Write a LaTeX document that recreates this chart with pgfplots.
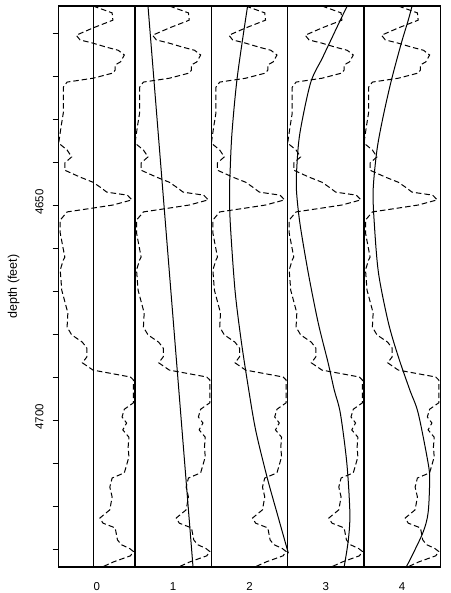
\documentclass[border=0pt]{standalone}
\usepackage{fontspec}
\setmainfont{Liberation Sans}
\usepackage{pgfplots}
\usepackage{pgfplotstable}
\pgfplotsset{compat=1.18}

\pgfplotstableread{
d v
4603.7 0.45
4605.3 0.70
4607.0 0.71
4608.8 0.45
4610.5 0.23
4611.6 0.28
4612.3 0.44
4613.3 0.63
4614.0 0.78
4615.1 0.86
4616.7 0.81
4617.4 0.74
4618.6 0.74
4619.3 0.71
4620.5 0.45
4621.4 0.11
4622.6 0.06
4625.6 0.06
4628.6 0.06
4631.9 0.03
4635.6 0.00
4637.2 0.11
4638.8 0.17
4640.2 0.08
4641.9 0.08
4643.5 0.28
4644.7 0.45
4645.8 0.54
4647.0 0.63
4647.7 0.90
4648.8 0.96
4650.0 0.71
4650.7 0.45
4651.6 0.11
4653.5 0.02
4656.5 0.02
4662.1 0.08
4662.8 0.06
4665.1 0.02
4669.8 0.04
4675.1 0.12
4678.4 0.11
4680.2 0.17
4681.9 0.31
4683.3 0.37
4685.3 0.37
4686.7 0.31
4688.4 0.45
4690.0 0.94
4690.7 0.98
4695.3 0.98
4696.0 0.98
4697.5 0.86
4699.3 0.83
4700.7 0.89
4702.3 0.84
4704.0 0.92
4706.3 0.91
4708.6 0.92
4712.3 0.86
4713.5 0.70
4715.6 0.67
4717.9 0.70
4720.9 0.67
4722.8 0.54
4724.0 0.58
4725.1 0.74
4727.9 0.77
4729.0 0.82
4729.9 0.93
4730.6 0.98
4731.6 0.94
4733.0 0.72
4734.2 0.57
}\logdata

\pgfplotstableread{
d v
4603.7 0.46
4734.2 0.46
}\fitzero

\pgfplotstableread{
d v
4603.7 0.17
4734.2 0.76
}\fitone

\pgfplotstableread{
d v
4603.7 0.475
4620.2 0.34
4633.3 0.27
4642.6 0.245
4646.5 0.238
4654.2 0.248
4669.8 0.31
4681.4 0.39
4691.9 0.48
4702.3 0.58
4713.3 0.73
4721.6 0.86
4729.8 0.99
4731.0 1.01
}\fittwo

\pgfplotstableread{
d v
4603.7 0.78
4607.0 0.69
4615.6 0.46
4621.6 0.30
4633.3 0.16
4641.2 0.12
4646.5 0.115
4654.2 0.16
4665.8 0.27
4677.4 0.40
4686.7 0.53
4693.0 0.61
4698.4 0.69
4710.0 0.775
4721.6 0.815
4727.9 0.795
4734.2 0.74
}\fitthree

\pgfplotstableread{
d v
4603.7 0.63
4607.0 0.58
4612.3 0.49
4620.9 0.36
4629.5 0.25
4637.2 0.17
4646.5 0.12
4654.2 0.135
4665.8 0.19
4677.4 0.32
4685.3 0.45
4693.0 0.60
4698.4 0.71
4710.0 0.84
4714.0 0.86
4721.6 0.84
4726.3 0.77
4733.3 0.58
4734.2 0.55
}\fitfour

\tikzset{
  logline/.style={black, line width=1pt, dash pattern=on 5.5pt off 3pt},
  fitline/.style={black, line width=1pt},
}

\begin{document}
\begin{tikzpicture}
\path[use as bounding box] (-58.7pt,-26pt) rectangle (391.3pt,567pt);
\begin{axis}[
  at={(0pt,0pt)}, anchor=south west,
  scale only axis, width=381.6pt, height=561pt,
  xmin=0, xmax=5, ymin=4603.7, ymax=4734.2, y dir=reverse,
  xtick={0.5,1.5,2.5,3.5,4.5}, xticklabels={0,1,2,3,4},
  x tick style={draw=none},
  extra x ticks={1,2,3,4}, extra x tick labels={},
  extra x tick style={grid=major, major grid style={black, line width=1.1pt}},
  ytick={4610,4620,...,4730},
  yticklabels={,,,,4650,,,,,4700,,,},
  ytick pos=left, tick align=outside, major tick length=6pt,
  y tick style={black, line width=0.8pt},
  axis line style={black, line width=1.1pt},
  font=\fontsize{11.5}{13}\selectfont,
  /pgf/number format/assume math mode=true,
  yticklabel style={rotate=90, anchor=south, inner sep=0pt, yshift=9pt, xshift=3pt},
  xticklabel style={inner sep=0pt, yshift=-9pt},
  ylabel={depth (feet)},
  ylabel style={at={(axis description cs:-0.1022,0.5)}, anchor=south, inner sep=0pt, font=\fontsize{12.5}{14}\selectfont},
]
\addplot[logline] table[x expr=\thisrow{v}, y=d]{\logdata};
\addplot[logline] table[x expr=\thisrow{v}+1, y=d]{\logdata};
\addplot[logline] table[x expr=\thisrow{v}+2, y=d]{\logdata};
\addplot[logline] table[x expr=\thisrow{v}+3, y=d]{\logdata};
\addplot[logline] table[x expr=\thisrow{v}+4, y=d]{\logdata};
\addplot[fitline] table[x expr=\thisrow{v}, y=d]{\fitzero};
\addplot[fitline] table[x expr=\thisrow{v}+1, y=d]{\fitone};
\addplot[fitline, smooth] table[x expr=\thisrow{v}+2, y=d]{\fittwo};
\addplot[fitline, smooth] table[x expr=\thisrow{v}+3, y=d]{\fitthree};
\addplot[fitline, smooth] table[x expr=\thisrow{v}+4, y=d]{\fitfour};
\end{axis}
\end{tikzpicture}
\end{document}
